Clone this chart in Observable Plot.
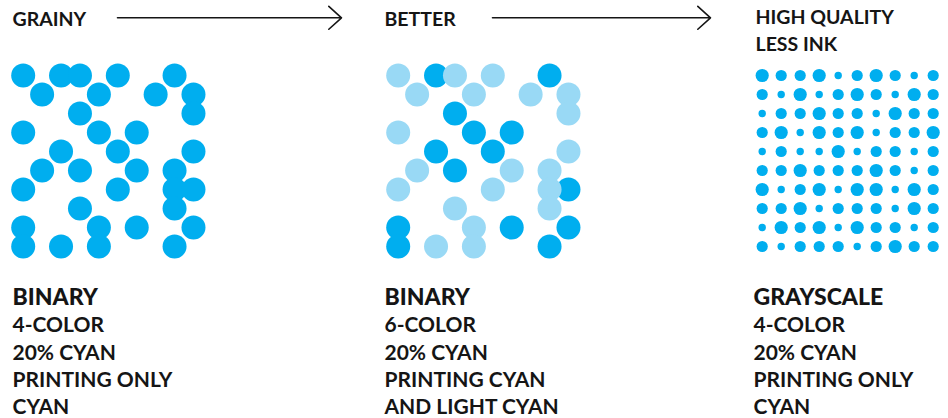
<!DOCTYPE html>
<html>
<head>
<meta charset="utf-8">
<script src="https://cdn.jsdelivr.net/npm/d3@7"></script>
<script src="https://cdn.jsdelivr.net/npm/@observablehq/plot@0.6"></script>
<style>
  html, body { margin: 0; padding: 0; background: #fff; }
  #chart svg { display: block; }
</style>
</head>
<body>
<div id="chart"></div>
<script>
// ---------- data ----------
const stageLabels = [["GRAINY"], ["BETTER"], ["HIGH QUALITY", "LESS INK"]];
const panelTitles = ["BINARY", "BINARY", "GRAYSCALE"];
const panelLines = [
  ["4-COLOR", "20% CYAN", "PRINTING ONLY", "CYAN"],
  ["6-COLOR", "20% CYAN", "PRINTING CYAN", "AND LIGHT CYAN"],
  ["4-COLOR", "20% CYAN", "PRINTING ONLY", "CYAN"]
];
// binary dither: columns printed in each of the 10 rows
const binaryRows = [
  [0, 2, 3, 5, 8],
  [1, 4, 7, 9],
  [3, 9],
  [0, 4, 6],
  [2, 5, 9],
  [1, 3, 6, 8],
  [0, 5, 8, 9],
  [3, 8],
  [0, 4, 6, 9],
  [0, 2, 4, 8]
];
// 6-color: which ink each dot uses (D = cyan, L = light cyan)
const sixColorInk = [
  ["L", "D", "L", "L", "D"],
  ["L", "L", "L", "L"],
  ["D", "L"],
  ["L", "D", "D"],
  ["D", "D", "L"],
  ["L", "D", "L", "L"],
  ["L", "L", "L", "D"],
  ["L", "L"],
  ["D", "L", "D", "D"],
  ["D", "L", "L", "D"]
];
// grayscale: dot size level (1 small, 2 medium, 3 large) on a 10x10 grid
const grayLevels = [
  [3, 2, 2, 3, 1, 2, 3, 2, 1, 2],
  [2, 1, 3, 1, 2, 3, 2, 1, 3, 2],
  [1, 2, 2, 3, 2, 2, 1, 3, 2, 2],
  [2, 3, 1, 3, 2, 3, 1, 2, 2, 3],
  [1, 2, 1, 1, 3, 1, 2, 2, 1, 2],
  [2, 2, 3, 2, 2, 2, 3, 2, 1, 2],
  [3, 1, 2, 3, 1, 3, 3, 1, 3, 2],
  [2, 2, 3, 1, 2, 2, 2, 1, 3, 2],
  [1, 3, 2, 3, 1, 3, 2, 2, 1, 2],
  [2, 1, 2, 2, 2, 1, 2, 3, 2, 2]
];

// ---------- layout ----------
const W = 948, H = 418;
const CYAN = "#00aeef", LIGHT = "#99d9f5", INK = "#151515";
const FONT = "Lato, 'Open Sans', sans-serif";
const gridLeft = [22.7, 397.7, 761.7];
const gridTop = 75;
const pitchX = [18.92, 18.92, 19.0];
const pitchY = 19;
const labelX = [12, 384, 755];
const headerBase = [25, 25, 23];
const headerStep = 27.5;
const titleBase = 304;
const bodyBase = 331.7, bodyStep = 27.3;
const arrowStart = [117, 492];
const arrowEnd = [341, 710];
const arrowY = 17.3;

// ---------- build tables ----------
const dots1 = binaryRows.flatMap((cols, row) => cols.map(col => ({panel: 0, row, col})));
const dots2 = binaryRows.flatMap((cols, row) => cols.map((col, i) => ({panel: 1, row, col, ink: sixColorInk[row][i]})));
const dots3 = grayLevels.flatMap((levels, row) => levels.map((level, col) => ({panel: 2, row, col, level})));
const px = d => gridLeft[d.panel] + d.col * pitchX[d.panel];
const py = d => gridTop + d.row * pitchY;

const headers = stageLabels.flatMap((lines, i) => lines.map((text, k) => ({text, x: labelX[i], y: headerBase[i] + k * headerStep})));
const titles = panelTitles.map((text, i) => ({text, x: i === 2 ? 753 : labelX[i], y: titleBase}));
const bodies = panelLines.flatMap((lines, i) => lines.map((text, k) => ({text, x: i === 2 ? 753 : labelX[i], y: bodyBase + k * bodyStep})));
const arrows = arrowStart.map((x1, i) => ({x1, x2: arrowEnd[i], y: arrowY}));

const chart = Plot.plot({
  width: W,
  height: H,
  margin: 0,
  x: {domain: [0, W], range: [0, W], axis: null},
  y: {domain: [0, H], range: [0, H], axis: null},
  r: {type: "linear", domain: [1, 2, 3], range: [3.7, 5.6, 6.6]},
  style: {background: "#fff"},
  marks: [
    Plot.arrow(arrows, {x1: "x1", x2: "x2", y1: "y", y2: "y", bend: 0, headLength: 16, headAngle: 84, stroke: INK, strokeWidth: 1.6}),
    Plot.dot(dots1, {x: px, y: py, r: 12, fill: CYAN}),
    Plot.dot(dots2.filter(d => d.ink === "D"), {x: px, y: py, r: 12, fill: CYAN}),
    Plot.dot(dots2.filter(d => d.ink === "L"), {x: px, y: py, r: 12, fill: LIGHT}),
    Plot.dot(dots3, {x: px, y: py, r: "level", fill: CYAN}),
    Plot.text(headers, {x: "x", y: "y", text: "text", textAnchor: "start", lineAnchor: "bottom", fontSize: 19.5, fontWeight: 700, fontFamily: FONT, fill: INK}),
    Plot.text(titles, {x: "x", y: "y", text: "text", textAnchor: "start", lineAnchor: "bottom", fontSize: 23, fontWeight: 900, fontFamily: FONT, fill: INK}),
    Plot.text(bodies, {x: "x", y: "y", text: "text", textAnchor: "start", lineAnchor: "bottom", fontSize: 21, fontWeight: 700, fontFamily: FONT, fill: INK})
  ]
});
document.getElementById("chart").appendChild(chart);
</script>
</body>
</html>
